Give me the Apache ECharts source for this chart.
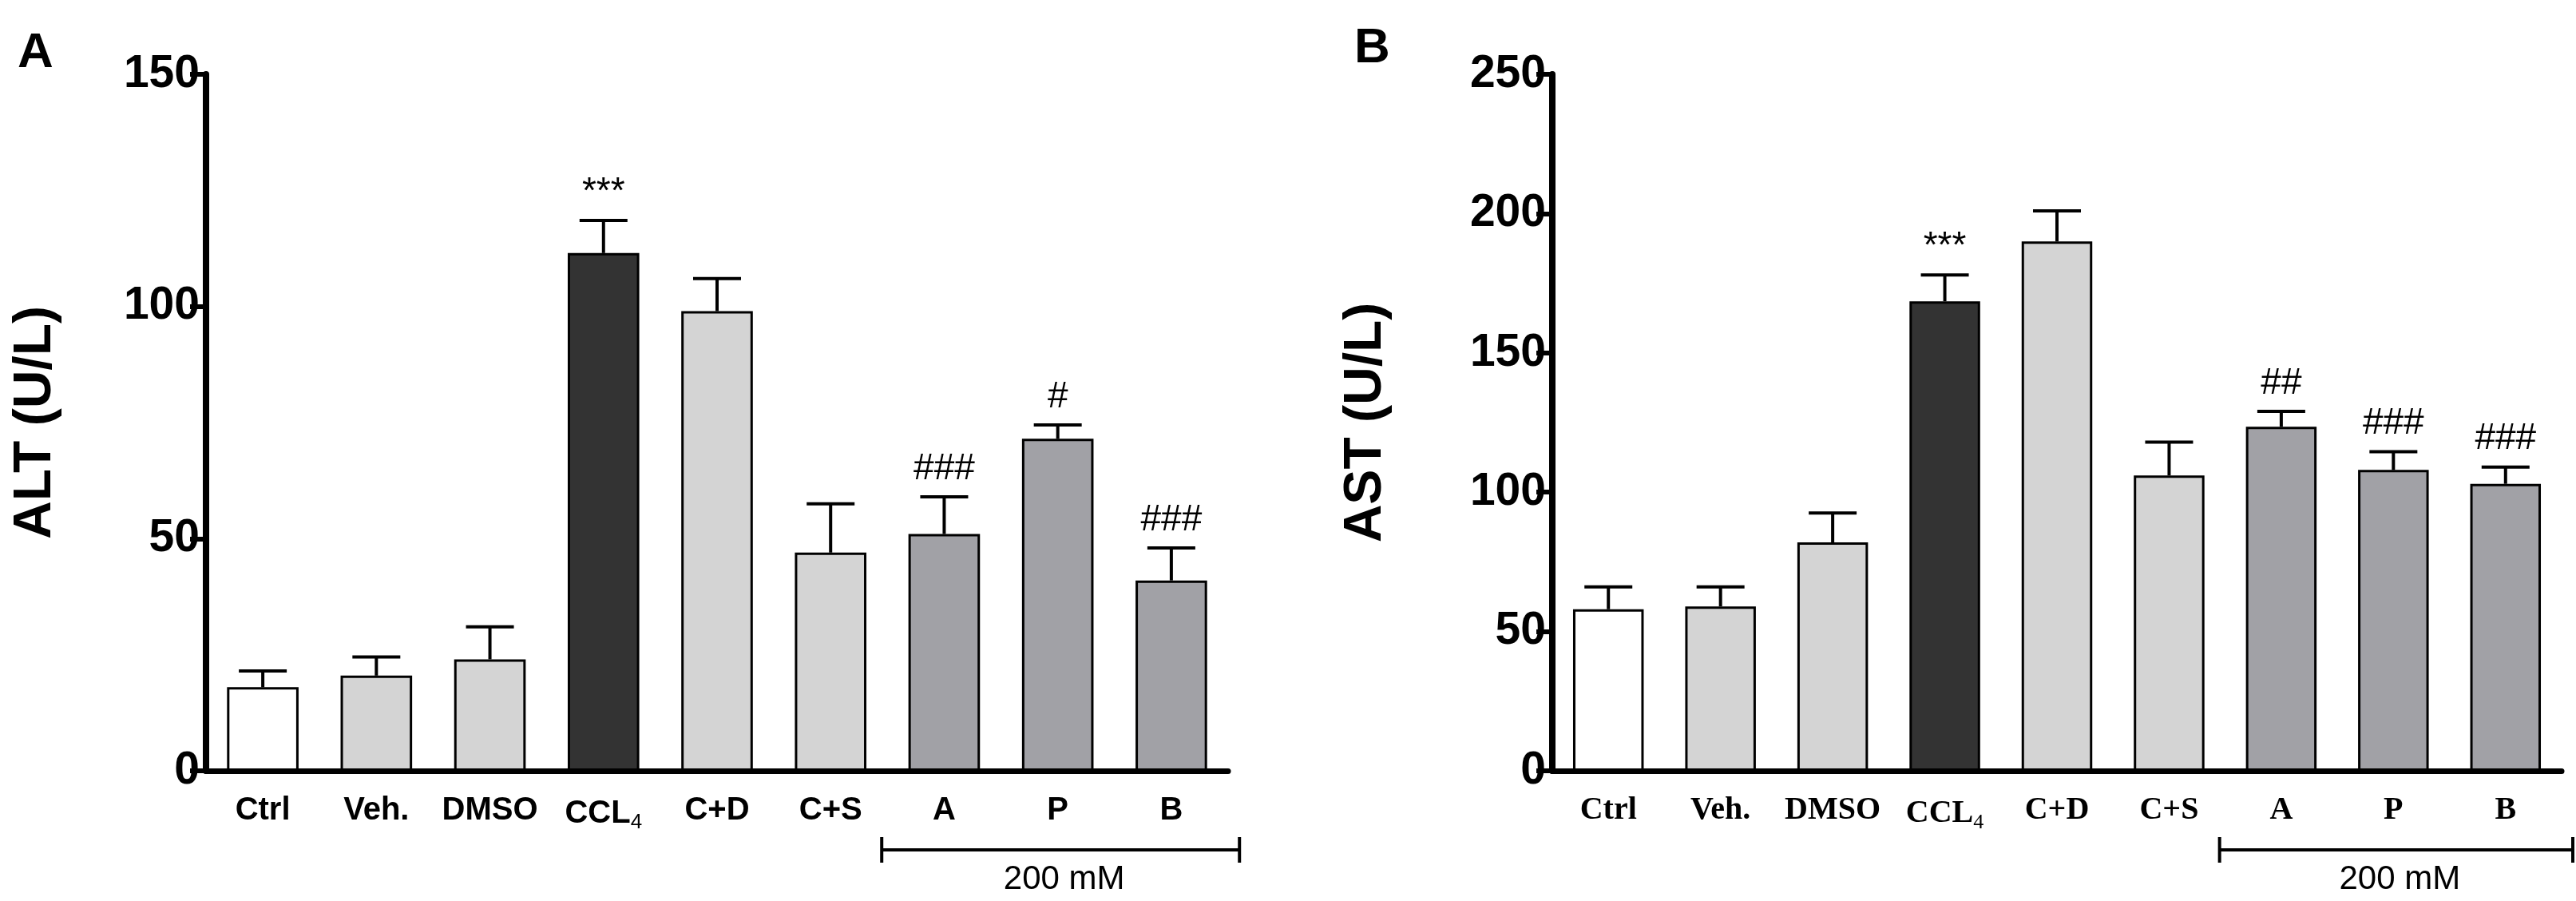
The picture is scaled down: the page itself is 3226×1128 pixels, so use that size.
<!DOCTYPE html>
<html>
<head>
<meta charset="utf-8">
<script src="https://cdn.jsdelivr.net/npm/echarts@6/dist/echarts.min.js"></script>
<style>html,body{margin:0;padding:0;background:#fff}#c{width:3226px;height:1128px}</style>
</head>
<body>
<div id="c"></div>
<script>
var categories = ['Ctrl', 'Veh.', 'DMSO', 'CCL4', 'C+D', 'C+S', 'A', 'P', 'B'];
var barColors = ['#ffffff', '#d4d4d4', '#d4d4d4', '#333333', '#d4d4d4', '#d4d4d4', '#a1a1a6', '#a1a1a6', '#a1a1a6'];
var altMean = [18, 20.5, 24, 111.5, 99, 47, 51, 71.5, 41];
var altUpper = [21.5, 24.5, 31, 118.5, 106, 57.5, 59, 74.5, 48];
var altMarks = ['', '', '', '***', '', '', '###', '#', '###'];
var astMean = [58, 59, 82, 168.5, 190, 106, 123.5, 108, 103];
var astUpper = [66, 66, 92.5, 178, 201, 118, 129, 114.5, 109];
var astMarks = ['', '', '', '***', '', '', '##', '###', '###'];
var altTicks = [0, 50, 100, 150];
var astTicks = [0, 50, 100, 150, 200, 250];

var sans = '"Liberation Sans", Arial, sans-serif';
var chart = echarts.init(document.getElementById('c'));

function richCat(v) {
    return v === 'CCL4' ? '{n|CCL}{s|4}' : '{n|' + v + '}';
}

function xAxis(idx, family) {
    return {
        type: 'category', gridIndex: idx, data: categories,
        axisLine: {lineStyle: {color: '#000', width: 7}},
        axisTick: {alignWithLabel: true, length: 18, lineStyle: {color: '#000', width: 6}},
        axisLabel: {
            margin: 30, formatter: richCat,
            rich: {
                n: {fontFamily: family, fontWeight: 'bold', fontSize: 40, color: '#000'},
                s: {fontFamily: family, fontSize: 26, color: '#000', padding: [22, 0, 0, 0]}
            }
        }
    };
}

function yAxis(idx, max, name, gap) {
    return {
        type: 'value', gridIndex: idx, min: 0, max: max, interval: 50,
        name: name, nameLocation: 'middle', nameGap: gap,
        nameTextStyle: {fontFamily: sans, fontWeight: 'bold', fontSize: 66, color: '#000'},
        splitLine: {show: false},
        axisLine: {show: true, lineStyle: {color: '#000', width: 8}},
        axisTick: {show: true, length: 20, lineStyle: {color: '#000', width: 6}},
        axisLabel: {fontFamily: sans, fontWeight: 'bold', fontSize: 57, color: '#000', margin: 8}
    };
}

function barSeries(idx, mean) {
    return {
        type: 'bar', xAxisIndex: idx, yAxisIndex: idx, barWidth: '63%',
        data: mean.map(function (v, i) {
            return {value: v, itemStyle: {color: barColors[i]}};
        }),
        itemStyle: {borderColor: '#000', borderWidth: 3}
    };
}

function errSeries(idx, mean, upper, marks) {
    return {
        type: 'custom', xAxisIndex: idx, yAxisIndex: idx, z: 1,
        data: mean.map(function (v, i) { return [i, v, upper[i]]; }),
        renderItem: function (params, api) {
            var i = api.value(0);
            var p0 = api.coord([i, api.value(1)]);
            var p1 = api.coord([i, api.value(2)]);
            var cap = 30;
            return {
                type: 'group',
                children: [
                    {type: 'line', shape: {x1: p0[0], y1: p0[1], x2: p1[0], y2: p1[1]}, style: {stroke: '#000', lineWidth: 4}},
                    {type: 'line', shape: {x1: p1[0] - cap, y1: p1[1], x2: p1[0] + cap, y2: p1[1]}, style: {stroke: '#000', lineWidth: 4}},
                    {type: 'text', x: p1[0], y: p1[1] - 12, style: {
                        text: marks[i], fill: '#000', fontFamily: sans, fontSize: 46,
                        align: 'center', verticalAlign: 'bottom'}}
                ]
            };
        }
    };
}

chart.setOption({
    animation: false,
    grid: [
        {left: 258, top: 93, width: 1280, height: 872},
        {left: 1944, top: 93, width: 1264, height: 872}
    ],
    xAxis: [xAxis(0, sans), xAxis(1, '"Liberation Serif", serif')],
    yAxis: [
        yAxis(0, altTicks[altTicks.length - 1], 'ALT (U/L)', 180),
        yAxis(1, astTicks[astTicks.length - 1], 'AST (U/L)', 200)
    ],
    series: [
        barSeries(0, altMean), errSeries(0, altMean, altUpper, altMarks),
        barSeries(1, astMean), errSeries(1, astMean, astUpper, astMarks)
    ]
});

// panel letters and the 200 mM brackets
var graphics = [
    {type: 'text', left: 22, top: 36, style: {text: 'A', fontFamily: sans, fontWeight: 'bold', fontSize: 62, fill: '#000'}},
    {type: 'text', left: 1696, top: 30, style: {text: 'B', fontFamily: sans, fontWeight: 'bold', fontSize: 62, fill: '#000'}}
];
[0, 1].forEach(function (g) {
    var a = chart.convertToPixel({xAxisIndex: g}, 'A');
    var b = chart.convertToPixel({xAxisIndex: g}, 'B');
    var half = (b - a) / 4;
    var x1 = a - half * 1.1, x2 = Math.min(b + half * 1.2, 3222), y = 1064;
    graphics.push(
        {type: 'line', shape: {x1: x1, y1: y, x2: x2, y2: y}, style: {stroke: '#000', lineWidth: 4}},
        {type: 'line', shape: {x1: x1, y1: y - 16, x2: x1, y2: y + 16}, style: {stroke: '#000', lineWidth: 4}},
        {type: 'line', shape: {x1: x2, y1: y - 16, x2: x2, y2: y + 16}, style: {stroke: '#000', lineWidth: 4}},
        {type: 'text', x: (a + b) / 2 + 8, y: 1080, style: {text: '200 mM', fontFamily: sans, fontSize: 42, fill: '#000', align: 'center'}}
    );
});
chart.setOption({graphic: graphics});
</script>
</body>
</html>
